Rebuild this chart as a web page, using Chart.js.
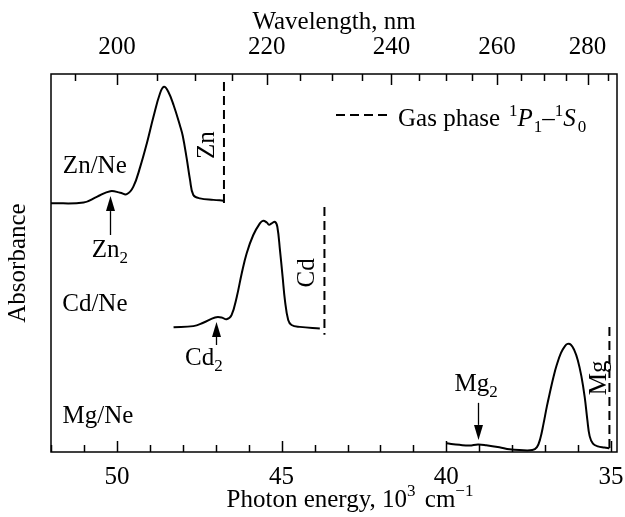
<!DOCTYPE html>
<html>
<head>
<meta charset="utf-8">
<script src="https://cdn.jsdelivr.net/npm/chart.js@4/dist/chart.umd.min.js"></script>
<style>
  html, body { margin: 0; padding: 0; background: #fff; }
  canvas { display: block; }
</style>
</head>
<body>
<canvas id="chart" width="625" height="517"></canvas>
<script>
// Absorption spectra of metal atoms isolated in neon (absorbance, arbitrary units)
const znEnergy = [52.0, 51.01, 50.61, 50.20, 49.90, 49.70, 49.50, 49.29, 49.09, 48.89, 48.69, 48.57, 48.44, 48.28, 48.08, 48.00, 47.88, 47.78, 47.68, 47.48, 47.07, 46.77];
const znAbs    = [65.8, 66.0, 67.5, 69.0, 68.6, 68.2, 70.2, 75.5, 81.7, 88.7, 94.9, 96.6, 95.3, 91.8, 86.2, 83.6, 77.6, 72.0, 68.0, 67.1, 66.7, 66.5];

const cdEnergy = [48.28, 47.68, 47.38, 47.02, 46.82, 46.67, 46.52, 46.36, 46.21, 46.06, 45.86, 45.66, 45.56, 45.45, 45.38, 45.30, 45.20, 45.13, 45.05, 44.97, 44.90, 44.80, 44.70, 44.45, 43.84];
const cdAbs    = [33.0, 33.3, 34.2, 35.6, 35.6, 35.1, 36.2, 41.1, 47.3, 52.6, 57.4, 60.5, 61.2, 60.7, 60.1, 60.5, 60.9, 59.6, 53.4, 46.4, 40.2, 34.9, 33.6, 33.1, 32.7];

const mgEnergy = [40.0, 39.6, 39.3, 39.04, 38.79, 38.39, 38.08, 37.78, 37.39, 37.25, 37.15, 37.05, 36.95, 36.85, 36.75, 36.65, 36.52, 36.40, 36.32, 36.22, 36.12, 36.01, 35.90, 35.80, 35.72, 35.65, 35.55, 35.40, 35.20, 35.05];
const mgAbs    = [2.3, 1.9, 1.7, 2.0, 1.8, 1.25, 0.7, 0.5, 0.5, 1.3, 3.5, 7.5, 12.0, 16.0, 19.8, 23.0, 26.2, 28.0, 28.6, 28.4, 27.0, 24.3, 20.0, 14.5, 8.5, 4.2, 2.2, 1.5, 1.2, 1.0];

// Gas-phase 1P1-1S0 resonance lines (Zn, Cd, Mg), 10^3 cm^-1, and their drawn extent
const gasLineEnergy = [46.75, 43.70, 35.05];
const gasLineTop    = [97.9, 64.8, 33.1];
const gasLineBottom = [65.3, 31.0, 0.0];

// Dimer band positions (Zn2, Cd2, Mg2), 10^3 cm^-1
const dimerEnergy = [50.22, 46.99, 39.04];

// Axis ticks
const energyTicks = [35, 36, 37, 38, 39, 40, 41, 42, 43, 44, 45, 46, 47, 48, 49, 50, 51, 52];
const energyLabels = [50, 45, 40, 35];
const wavelengthTicks = [195, 200, 205, 210, 215, 220, 225, 230, 235, 240, 245, 250, 255, 260, 265, 270, 275, 280, 285];
const wavelengthLabels = [200, 220, 240, 260, 280];

const FONT = '"Liberation Serif", "Times New Roman", serif';
const SIZE = 25;
const SMALL = 17;

function curve(xs, ys) {
  return xs.map((x, i) => ({ x: x, y: ys[i] }));
}

const datasets = [
  { data: curve(znEnergy, znAbs) },
  { data: curve(cdEnergy, cdAbs) },
  { data: curve(mgEnergy, mgAbs) }
].map(d => Object.assign(d, {
  borderColor: '#000', borderWidth: 2, pointRadius: 0,
  tension: 0.4, fill: false
}));

gasLineEnergy.forEach((e, i) => {
  datasets.push({
    data: [{ x: e, y: gasLineTop[i] }, { x: e, y: gasLineBottom[i] }],
    borderColor: '#000', borderWidth: 2, borderDash: [9, 5],
    pointRadius: 0, fill: false
  });
});

// Mixed-size text runs (sub/superscripts, italics)
function runs(ctx, parts) {
  let w = 0;
  parts.forEach(p => {
    ctx.font = (p.italic ? 'italic ' : '') + (p.size || SIZE) + 'px ' + FONT;
    p.w = ctx.measureText(p.t).width;
    w += p.w + (p.gap || 0);
  });
  return w;
}
function drawRuns(ctx, x, y, parts, align) {
  const total = runs(ctx, parts);
  let cx = align === 'center' ? x - total / 2 : x;
  ctx.textAlign = 'left';
  ctx.textBaseline = 'alphabetic';
  parts.forEach(p => {
    ctx.font = (p.italic ? 'italic ' : '') + (p.size || SIZE) + 'px ' + FONT;
    ctx.fillText(p.t, cx, y + (p.dy || 0));
    cx += p.w + (p.gap || 0);
  });
}

function arrow(ctx, x, yTail, yTip) {
  const dir = yTip > yTail ? 1 : -1;
  const headLen = 15, halfW = 4.5;
  ctx.beginPath();
  ctx.moveTo(x, yTail);
  ctx.lineTo(x, yTip - dir * headLen);
  ctx.stroke();
  ctx.beginPath();
  ctx.moveTo(x, yTip);
  ctx.lineTo(x - halfW, yTip - dir * headLen);
  ctx.lineTo(x + halfW, yTip - dir * headLen);
  ctx.closePath();
  ctx.fill();
}

const decorations = {
  id: 'decorations',
  afterDraw(chart) {
    const { ctx, chartArea: a, scales } = chart;
    const X = v => scales.x.getPixelForValue(v);
    const Y = v => scales.y.getPixelForValue(v);
    ctx.save();
    ctx.strokeStyle = '#000';
    ctx.fillStyle = '#000';

    // frame
    ctx.lineWidth = 1.5;
    ctx.strokeRect(a.left, a.top, a.right - a.left, a.bottom - a.top);

    // inward tick marks, bottom (energy) and top (wavelength)
    ctx.lineWidth = 1.5;
    energyTicks.forEach(v => {
      const px = Math.round(X(v)) + 0.5;
      const len = v % 5 === 0 ? 11 : 7;
      ctx.beginPath(); ctx.moveTo(px, a.bottom); ctx.lineTo(px, a.bottom - len); ctx.stroke();
    });
    wavelengthTicks.forEach(w => {
      const px = Math.round(scales.x2.getPixelForValue(10000 / w)) + 0.5;
      const len = w % 20 === 0 ? 11 : 7;
      ctx.beginPath(); ctx.moveTo(px, a.top); ctx.lineTo(px, a.top + len); ctx.stroke();
    });

    // sample labels
    drawRuns(ctx, X(51.64), Y(73.8), [{ t: 'Zn/Ne' }]);
    drawRuns(ctx, X(51.66), Y(37.4), [{ t: 'Cd/Ne' }]);
    drawRuns(ctx, X(51.65), Y(7.75), [{ t: 'Mg/Ne' }]);

    // dimer labels and arrows
    drawRuns(ctx, X(50.76), Y(51.7), [{ t: 'Zn' }, { t: '2', size: SMALL, dy: 6 }]);
    drawRuns(ctx, X(47.93), Y(23.0), [{ t: 'Cd' }, { t: '2', size: SMALL, dy: 6 }]);
    drawRuns(ctx, X(39.75), Y(16.2), [{ t: 'Mg' }, { t: '2', size: SMALL, dy: 6 }]);
    ctx.lineWidth = 1.3;
    arrow(ctx, Math.round(X(dimerEnergy[0])) + 0.5, Y(57.4), Y(67.7));
    arrow(ctx, Math.round(X(dimerEnergy[1])) + 0.5, Y(28.3), Y(34.4));
    arrow(ctx, Math.round(X(dimerEnergy[2])) + 0.5, Y(13.0), Y(3.2));

    // atom labels beside the gas-phase lines, rotated
    [['Zn', 47.26, 81.2], ['Cd', 44.23, 47.4], ['Mg', 35.35, 19.6]].forEach(([txt, e, v]) => {
      ctx.save();
      ctx.translate(X(e), Y(v));
      ctx.rotate(-Math.PI / 2);
      ctx.font = SIZE + 'px ' + FONT;
      ctx.textAlign = 'center';
      ctx.textBaseline = 'middle';
      ctx.fillText(txt, 0, 0);
      ctx.restore();
    });

    // legend for the dashed lines
    const ly = a.top + 41;
    ctx.lineWidth = 2;
    ctx.setLineDash([9, 5]);
    ctx.beginPath(); ctx.moveTo(a.left + 285, ly); ctx.lineTo(a.left + 337, ly); ctx.stroke();
    ctx.setLineDash([]);
    drawRuns(ctx, a.left + 347, ly + 11, [
      { t: 'Gas phase', gap: 9 },
      { t: '1', size: SMALL, dy: -10 },
      { t: 'P', italic: true, gap: 1 },
      { t: '1', size: SMALL, dy: 6 },
      { t: '\u2013' },
      { t: '1', size: SMALL, dy: -10 },
      { t: 'S', italic: true, gap: 2 },
      { t: '0', size: SMALL, dy: 6 }
    ]);

    // bottom axis title
    drawRuns(ctx, (a.left + a.right) / 2 + 16, 507, [
      { t: 'Photon energy, 10' },
      { t: '3', size: SMALL, dy: -11, gap: 3 },
      { t: ' cm' },
      { t: '\u22121', size: SMALL, dy: -11 }
    ], 'center');

    ctx.restore();
  }
};

new Chart(document.getElementById('chart'), {
  type: 'line',
  data: { datasets: datasets },
  options: {
    responsive: false,
    animation: false,
    devicePixelRatio: 1,
    layout: { padding: { left: 0, right: 8, top: 0, bottom: 0 } },
    plugins: { legend: { display: false }, tooltip: { enabled: false } },
    scales: {
      x: {
        type: 'linear', position: 'bottom', min: 34.82, max: 52.0, reverse: true,
        grid: { display: false }, border: { display: false },
        afterBuildTicks: s => { s.ticks = energyTicks.map(v => ({ value: v })); },
        ticks: {
          autoSkip: false, maxRotation: 0, minRotation: 0, padding: 2, color: '#000',
          font: { family: FONT, size: SIZE },
          callback: v => energyLabels.includes(v) ? String(v) : ''
        },
        afterFit: s => { s.height = 65; s.paddingLeft = 0; s.paddingRight = 0; }
      },
      x2: {
        type: 'linear', position: 'top', min: 34.82, max: 52.0, reverse: true,
        grid: { display: false }, border: { display: false },
        afterBuildTicks: s => { s.ticks = wavelengthTicks.map(w => ({ value: 10000 / w })); },
        ticks: {
          autoSkip: false, maxRotation: 0, minRotation: 0, padding: 4, color: '#000',
          font: { family: FONT, size: SIZE },
          callback: v => {
            const w = Math.round(10000 / v);
            return wavelengthLabels.includes(w) ? String(w) : '';
          }
        },
        title: {
          display: true, text: 'Wavelength, nm', color: '#000',
          font: { family: FONT, size: SIZE }, padding: { top: 7, bottom: 0 }
        },
        afterFit: s => { s.height = 74; s.paddingLeft = 0; s.paddingRight = 0; }
      },
      y: {
        type: 'linear', min: 0, max: 100,
        grid: { display: false }, border: { display: false },
        ticks: { display: false },
        title: {
          display: true, text: 'Absorbance', color: '#000',
          font: { family: FONT, size: SIZE }, padding: { top: 3, bottom: 0 }
        },
        afterFit: s => { s.width = 51; s.paddingTop = 0; s.paddingBottom = 0; }
      }
    }
  },
  plugins: [decorations]
});
</script>
</body>
</html>
